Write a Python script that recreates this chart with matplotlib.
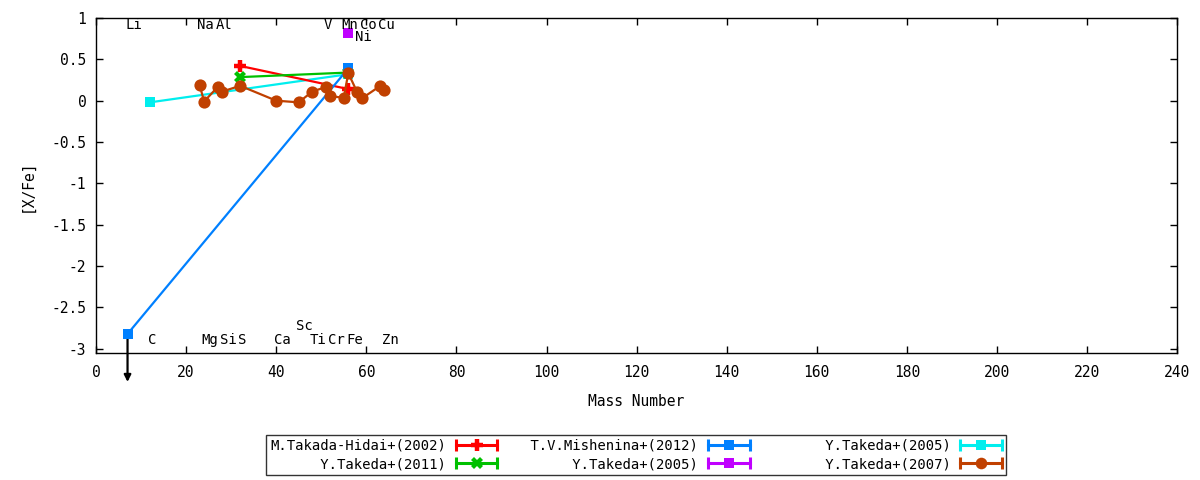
import matplotlib
matplotlib.use("Agg")
import matplotlib.pyplot as plt
from matplotlib.lines import Line2D
from matplotlib.legend_handler import HandlerBase

plt.rcParams['font.family'] = ['DejaVu Sans Mono']
plt.rcParams['font.size'] = 10

# ---------------- data ----------------
red_label = "M.Takada-Hidai+(2002)"
red_x = [32, 56]
red_y = [0.42, 0.14]

green_label = "Y.Takeda+(2011)"
green_x = [32, 56]
green_y = [0.285, 0.34]

blue_label = "T.V.Mishenina+(2012)"
blue_x = [7, 56]
blue_y = [-2.82, 0.39]
blue_upper_limit = [True, False]

purple_label = "Y.Takeda+(2005)"
purple_x = [56]
purple_y = [0.82]

cyan_label = "Y.Takeda+(2005)"
cyan_x = [12, 56]
cyan_y = [-0.02, 0.32]

brown_label = "Y.Takeda+(2007)"
brown_x = [23, 24, 27, 28, 32, 40, 45, 48, 51, 52, 55, 56, 58, 59, 63, 64]
brown_y = [0.19, -0.01, 0.165, 0.11, 0.18, 0.0, -0.02, 0.11, 0.165, 0.055,
           0.035, 0.333, 0.10, 0.027, 0.175, 0.125]

# element labels: name, mass number, y position
elem_names = ["Li", "Na", "Al", "V", "Mn", "Co", "Cu", "Ni",
              "C", "Mg", "Si", "S", "Ca", "Sc", "Ti", "Cr", "Fe", "Zn"]
elem_mass = [7, 23, 27, 51, 55, 59, 63, 58,
             12, 24, 28, 32, 40, 45, 48, 52, 56, 64]
elem_y = [0.91, 0.91, 0.91, 0.91, 0.91, 0.91, 0.91, 0.77,
          -2.89, -2.89, -2.89, -2.89, -2.89, -2.72, -2.89, -2.89, -2.89, -2.89]

x_ticks = list(range(0, 241, 20))
y_ticks = [1, 0.5, 0, -0.5, -1, -1.5, -2, -2.5, -3]
y_ticklabels = ["1", "0.5", "0", "-0.5", "-1", "-1.5", "-2", "-2.5", "-3"]

# ---------------- plot ----------------
fig = plt.figure(figsize=(12, 4.8), dpi=100)
ax = fig.add_axes([0.08, 0.2646, 0.901, 0.698])

c_red = "#ff0000"
c_green = "#00c000"
c_blue = "#0080ff"
c_purple = "#c000ff"
c_cyan = "#00eeee"
c_brown = "#c04000"

lw = 1.6
h_red, = ax.plot(red_x, red_y, color=c_red, lw=lw, marker='+', ms=9, mew=3.2, zorder=3)
h_green, = ax.plot(green_x, green_y, color=c_green, lw=lw, marker='X', ms=9, mew=0, zorder=3)
h_blue, = ax.plot(blue_x, blue_y, color=c_blue, lw=lw, marker='s', ms=7.5, mew=0, zorder=3)
h_purple, = ax.plot(purple_x, purple_y, color=c_purple, lw=lw, marker='s', ms=7.5, mew=0,
                    linestyle='none', zorder=3)
h_cyan, = ax.plot(cyan_x, cyan_y, color=c_cyan, lw=lw, marker='s', ms=7.5, mew=0, zorder=2.9)
h_brown, = ax.plot(brown_x, brown_y, color=c_brown, lw=lw, marker='o', ms=8.8, mew=0, zorder=3.1)

# upper limit arrows
for xv, yv, up in zip(blue_x, blue_y, blue_upper_limit):
    if up:
        ax.annotate("", xy=(xv, yv - 0.58), xytext=(xv, yv),
                    arrowprops=dict(arrowstyle="-|>", color="black", lw=1.6,
                                    mutation_scale=10, shrinkA=0, shrinkB=0),
                    annotation_clip=False, zorder=2)

for n, m, yv in zip(elem_names, elem_mass, elem_y):
    ax.text(m - 0.5, yv, n, ha='left', va='center', fontsize=10, zorder=4)

ax.set_xlim(0, 240)
ax.set_ylim(-3.05, 1.0)
ax.set_xticks(x_ticks)
ax.set_yticks(y_ticks)
ax.set_yticklabels(y_ticklabels)
ax.tick_params(direction='in', length=5, width=1, top=True, right=True, labelsize=10.5)
ax.tick_params(axis='x', pad=9)
ax.tick_params(axis='y', pad=7)
for s in ax.spines.values():
    s.set_linewidth(1)
ax.set_xlabel("Mass Number", fontsize=10.5, labelpad=10)
ax.set_ylabel("[X/Fe]", fontsize=10.5, labelpad=12)


class CapHandler(HandlerBase):
    def create_artists(self, legend, orig_handle, xdescent, ydescent, width, height,
                       fontsize, trans):
        col = orig_handle.get_color()
        y = height / 2 - ydescent
        x0 = -xdescent
        x1 = width - xdescent
        line = Line2D([x0, x1], [y, y], color=col, lw=2.2)
        caps = Line2D([x0, x1], [y, y], color=col, linestyle='none', marker='|',
                      ms=9, mew=2.2)
        mk = Line2D([(x0 + x1) / 2], [y], color=col, linestyle='none',
                    marker=orig_handle.get_marker(), ms=orig_handle.get_markersize() * 0.95,
                    mew=orig_handle.get_markeredgewidth())
        for a in (line, caps, mk):
            a.set_transform(trans)
        return [line, caps, mk]


handles = [h_red, h_green, h_blue, h_purple, h_cyan, h_brown]
labels = [red_label, green_label, blue_label, purple_label, cyan_label, brown_label]
width = max(len(l) for l in labels)
labels = [l.rjust(width) for l in labels]
leg = fig.legend(handles, labels, loc='center', bbox_to_anchor=(0.53, 0.052), ncol=3,
                 markerfirst=False, handler_map={Line2D: CapHandler()},
                 handlelength=3.0, handletextpad=0.7, columnspacing=1.8,
                 labelspacing=0.3, borderpad=0.3, fancybox=False, frameon=True,
                 edgecolor='black', fontsize=10)
leg.get_frame().set_linewidth(1)

fig.savefig("out.png", dpi=100)
